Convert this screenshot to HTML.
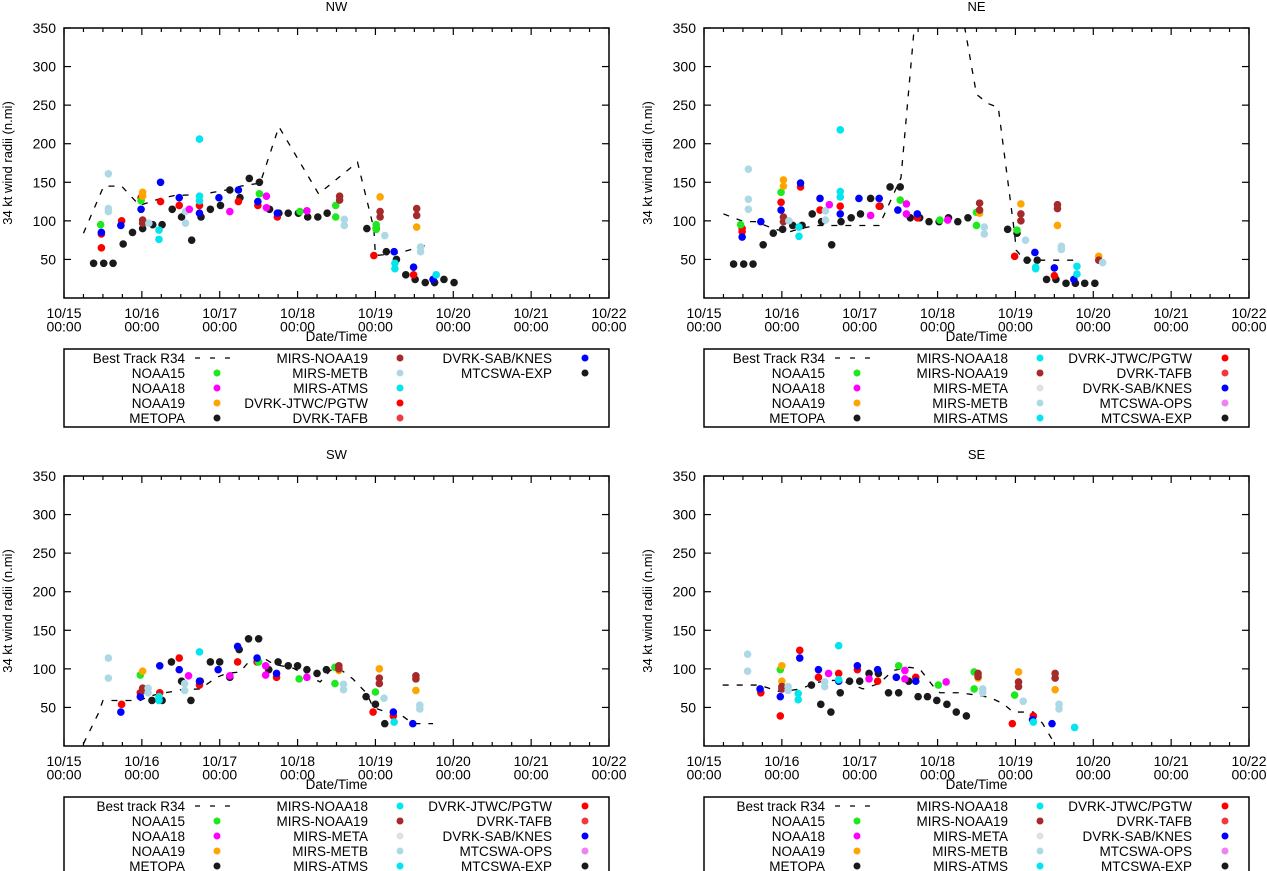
<!DOCTYPE html>
<html><head><meta charset="utf-8"><style>
html,body{margin:0;padding:0;background:#fff;}
svg{display:block;font-family:"Liberation Sans",Arial,sans-serif;}
</style></head><body>
<svg id="chart" width="1267" height="871" viewBox="0 0 1267 871" xmlns="http://www.w3.org/2000/svg"></svg>
<script>
// ---- shared axis data ----
const dayTickLabels = ["10/15","10/16","10/17","10/18","10/19","10/20","10/21","10/22"];
const yTicks = [50,100,150,200,250,300,350];

// ---- NW ----
const nwBest = [[0.25,84],[0.51,145],[0.74,145],[0.97,120],[1.24,129],[1.43,133],[1.75,134],[2.14,141],[2.27,145],[2.52,149],[2.76,222],[3.27,135],[3.77,176],[3.98,90],[4.0,55],[4.29,58],[4.67,69]];
const nwBlack = [[0.38,45],[0.51,45],[0.63,45],[0.76,70],[0.88,85],[1.01,90],[1.14,95],[1.26,95],[1.39,115],[1.51,105],[1.64,75],[1.76,105],[1.88,115],[2.01,120],[2.13,140],[2.26,130],[2.38,155],[2.51,150],[2.64,115],[2.76,110],[2.88,110],[3.01,110],[3.13,105],[3.26,105],[3.38,110],[3.89,90],[4.01,90],[4.14,60],[4.27,50],[4.39,30],[4.51,24],[4.64,20],[4.76,20],[4.88,24],[5.01,20]];
const nwRed = [[0.48,83],[0.48,65],[0.74,100],[0.99,130],[1.24,125],[1.48,120],[1.74,120],[2.24,125],[2.49,120],[2.74,105],[3.98,55],[4.49,30]];
const nwGreen = [[0.47,95],[0.99,126],[2.51,135],[3.03,112],[3.49,105],[3.49,120],[4.01,95],[4.01,89]];
const nwBlue = [[0.48,85],[0.73,94],[0.99,115],[1.24,150],[1.48,130],[1.74,110],[1.99,130],[2.24,140],[2.49,125],[2.74,110],[4.24,60],[4.49,40],[4.74,24]];
const nwOrange = [[1.01,137],[1.01,132],[4.06,131],[4.53,92]];
const nwBrown = [[1.01,101],[1.01,97],[3.54,132],[3.54,127],[4.06,112],[4.06,105],[4.53,116],[4.53,107]];
const nwLightBlue = [[0.57,161],[0.57,116],[0.57,112],[1.09,97],[1.56,112],[1.56,97],[3.6,102],[3.6,94],[4.12,81],[4.58,66],[4.58,60]];
const nwCyan = [[1.74,206],[1.74,132],[1.74,126],[1.22,88],[1.22,76],[4.25,45],[4.25,38],[4.78,30]];
const nwMagenta = [[1.61,115],[2.13,112],[2.6,132],[2.6,117],[3.12,113]];

// ---- NE ----
const neBest = [[0.25,109],[0.51,99],[0.66,99],[0.89,90],[1.07,85],[1.24,90],[1.43,94],[1.63,94],[2.25,94],[2.36,118],[2.53,156],[2.7,350],[2.75,380],[3.25,380],[3.35,350],[3.5,264],[3.65,252],[3.78,247],[3.99,83],[4.01,62],[4.12,49],[4.77,49]];
const neBlack = [[0.38,44],[0.51,44],[0.63,44],[0.76,69],[0.89,84],[1.01,89],[1.14,94],[1.26,94],[1.39,109],[1.51,99],[1.64,69],[1.76,99],[1.89,104],[2.01,109],[2.14,129],[2.26,119],[2.39,144],[2.52,144],[2.65,104],[2.77,104],[2.89,99],[3.02,99],[3.14,104],[3.26,99],[3.39,104],[3.9,89],[4.02,84],[4.15,49],[4.28,49],[4.4,24],[4.52,24],[4.65,19],[4.77,19],[4.89,19],[5.02,19]];
const neRed = [[0.49,90],[0.49,86],[0.99,124],[1.24,144],[1.49,114],[1.75,119],[2.25,119],[2.74,104],[3.99,54],[4.5,29]];
const neGreen = [[0.47,95],[0.99,137],[2.52,127],[3.03,101],[3.5,111],[3.5,94],[4.02,88]];
const neBlue = [[0.49,79],[0.73,99],[0.99,114],[1.24,149],[1.49,129],[1.75,109],[1.99,129],[2.25,129],[2.49,114],[2.74,109],[4.25,59],[4.5,39],[4.75,24]];
const neOrange = [[1.02,153],[1.02,145],[3.54,110],[4.07,122],[4.54,94],[5.07,54]];
const neBrown = [[1.02,105],[1.02,99],[3.54,123],[3.54,114],[4.07,109],[4.07,100],[4.54,121],[4.54,116],[5.07,49]];
const neLightBlue = [[0.57,167],[0.57,128],[0.57,115],[1.09,100],[1.56,113],[1.56,101],[3.6,92],[3.6,83],[4.13,75],[4.59,67],[4.59,63],[5.12,46]];
const neCyan = [[1.75,218],[1.75,138],[1.75,131],[1.22,92],[1.22,80],[4.26,40],[4.26,38],[4.79,41],[4.79,31]];
const neMagenta = [[1.61,121],[2.14,107],[2.6,122],[2.6,109],[3.13,101]];

// ---- SW ----
const swBest = [[0.25,3],[0.44,42],[0.5,59],[0.74,59],[0.98,59],[1.08,64],[1.23,68],[1.36,70],[1.51,73],[1.75,74],[1.96,89],[2.09,94],[2.26,96],[2.39,111],[2.52,117],[2.69,106],[2.94,101],[3.29,83],[3.42,98],[3.54,100],[3.71,87],[3.89,68],[3.97,50],[4.14,44],[4.27,44],[4.36,38],[4.48,29],[4.74,29]];
const swBlack = [[1.13,59],[1.26,59],[1.38,109],[1.51,84],[1.63,59],[1.75,84],[1.88,109],[2.0,109],[2.13,89],[2.25,125],[2.37,139],[2.5,139],[2.63,99],[2.75,109],[2.88,104],[3.0,104],[3.12,99],[3.25,94],[3.37,99],[3.88,64],[4.0,54],[4.12,29]];
const swRed = [[0.74,54],[0.98,69],[1.23,69],[1.48,114],[1.74,79],[2.23,109],[2.48,109],[2.73,89],[3.97,44],[4.23,39]];
const swGreen = [[0.98,92],[2.5,109],[3.02,87],[3.48,102],[3.48,81],[4.0,70]];
const swBlue = [[0.73,44],[0.98,64],[1.23,104],[1.48,99],[1.74,84],[1.98,99],[2.23,129],[2.48,114],[2.73,94],[4.23,44],[4.48,29]];
const swOrange = [[1.01,97],[3.53,98],[4.05,100],[4.52,72]];
const swBrown = [[1.01,75],[1.01,72],[3.53,104],[3.53,100],[4.05,88],[4.05,81],[4.52,91],[4.52,87]];
const swLightBlue = [[0.57,114],[0.57,88],[1.08,75],[1.08,69],[1.55,81],[1.55,72],[3.59,80],[3.59,73],[4.11,62],[4.57,53],[4.57,48]];
const swCyan = [[1.22,64],[1.22,59],[1.74,122],[4.24,31]];
const swMagenta = [[1.6,91],[2.13,91],[2.59,104],[2.59,92],[3.12,89]];

// ---- SE ----
const seBest = [[0.24,79],[0.71,79],[0.86,74],[0.99,70],[1.1,72],[1.25,74],[1.4,81],[1.57,85],[1.74,85],[1.87,81],[2.04,74],[2.25,81],[2.43,98],[2.64,102],[2.77,100],[2.94,78],[3.03,69],[3.28,69],[3.5,66],[3.67,63],[3.84,55],[3.97,44],[4.23,44],[4.35,29],[4.48,7],[4.51,0]];
const seBlack = [[1.38,79],[1.5,54],[1.63,44],[1.75,69],[1.87,84],[2.0,84],[2.12,94],[2.24,94],[2.37,69],[2.5,69],[2.63,84],[2.75,64],[2.87,64],[2.99,59],[3.12,54],[3.24,44],[3.37,39]];
const seRed = [[0.73,69],[0.98,39],[1.23,124],[1.47,89],[1.73,94],[1.97,99],[2.23,84],[2.72,89],[3.96,29],[4.23,39]];
const seGreen = [[0.98,99],[2.5,104],[3.01,79],[3.47,96],[3.47,74],[3.99,66]];
const seBlue = [[0.72,74],[0.98,64],[1.23,114],[1.47,99],[1.73,84],[1.97,104],[2.23,99],[2.47,89],[2.72,84],[4.22,34],[4.47,29]];
const seOrange = [[1.0,104],[1.0,84],[3.52,88],[4.04,96],[4.51,73]];
const seBrown = [[1.0,77],[1.0,74],[3.52,94],[3.52,90],[4.04,83],[4.04,77],[4.51,94],[4.51,88]];
const seLightBlue = [[0.56,119],[0.56,97],[1.08,77],[1.08,72],[1.55,83],[1.55,77],[3.58,74],[3.58,69],[4.1,58],[4.56,54],[4.56,48]];
const seCyan = [[1.21,68],[1.21,60],[1.73,130],[1.73,86],[4.23,31],[4.76,24]];
const seMagenta = [[1.6,94],[2.12,87],[2.58,98],[2.58,87],[3.11,83]];

const COL = {green:"#1ee81e",magenta:"#ff00ff",orange:"#ffa500",black:"#1a1a1a",brown:"#a52a2a",lightblue:"#add8e6",cyan:"#00e5ee",red:"#ff0000",red2:"#ee3b3b",blue:"#0000ff",gray:"#e0e0e0",violet:"#ee82ee"};

const legendA = [
 [["Best Track R34","dash"],["NOAA15","green"],["NOAA18","magenta"],["NOAA19","orange"],["METOPA","black"]],
 [["MIRS-NOAA19","brown"],["MIRS-METB","lightblue"],["MIRS-ATMS","cyan"],["DVRK-JTWC/PGTW","red"],["DVRK-TAFB","red2"]],
 [["DVRK-SAB/KNES","blue"],["MTCSWA-EXP","black"]]];
function legendB(best){ return [
 [[best,"dash"],["NOAA15","green"],["NOAA18","magenta"],["NOAA19","orange"],["METOPA","black"]],
 [["MIRS-NOAA18","cyan"],["MIRS-NOAA19","brown"],["MIRS-META","gray"],["MIRS-METB","lightblue"],["MIRS-ATMS","cyan"]],
 [["DVRK-JTWC/PGTW","red"],["DVRK-TAFB","red2"],["DVRK-SAB/KNES","blue"],["MTCSWA-OPS","violet"],["MTCSWA-EXP","black"]]];}

const svg = document.getElementById('chart');
const NS = "http://www.w3.org/2000/svg";
function mk(tag, attrs, parent){ const e=document.createElementNS(NS,tag); for(const k in attrs) e.setAttribute(k,attrs[k]); (parent||svg).appendChild(e); return e; }

const PL=64, PR=609, PT=28, PB=298;
function drawPanel(ox, oy, key, title, best, series, legend){
  const g = mk('g',{transform:`translate(${ox},${oy})`});
  
  
  const xs = d => PL + d*(PR-PL)/7;
  const ys = v => PB - v*(PB-PT)/350;
  const t = mk('text',{x:(PL+PR)/2,y:11,'text-anchor':'middle','font-size':13},g); t.textContent=title;
  
  
  const yl = mk('text',{x:0,y:0,'text-anchor':'middle','font-size':13,transform:`translate(12,${(PT+PB)/2}) rotate(-90)`},g);
  yl.textContent="34 kt wind radii (n.mi)";
  
  
  for(const v of yTicks){
    const y=ys(v);
    mk('line',{x1:PL,x2:PL+7,y1:y,y2:y,stroke:'#000','stroke-width':1.2},g);
    mk('line',{x1:PR,x2:PR-7,y1:y,y2:y,stroke:'#000','stroke-width':1.2},g);
    const lb=mk('text',{x:PL-8,y:y+5,'text-anchor':'end','font-size':14},g); lb.textContent=v;
    
    
  }
  for(let i=0;i<=28;i++){
    const x=xs(i/4), L=(i%4===0)?7:4;
    mk('line',{x1:x,x2:x,y1:PB,y2:PB-L,stroke:'#000','stroke-width':1.2},g);
    mk('line',{x1:x,x2:x,y1:PT,y2:PT+L,stroke:'#000','stroke-width':1.2},g);
  }
  dayTickLabels.forEach((s,i)=>{
    const tx=mk('text',{x:xs(i),y:PB+20,'text-anchor':'middle','font-size':14},g);
    
    
    const a=mk('tspan',{x:xs(i)},tx); a.textContent=s;
    const b=mk('tspan',{x:xs(i),dy:13.5},tx); b.textContent="00:00";
  });
  const xl=mk('text',{x:(PL+PR)/2,y:PB+43,'text-anchor':'middle','font-size':13.5},g); xl.textContent="Date/Time";
  
  
  const cid='clip-'+key;
  const cp=mk('clipPath',{id:cid},g); mk('rect',{x:PL,y:PT,width:PR-PL,height:PB-PT},cp);
  const pg=mk('g',{'clip-path':`url(#${cid})`},g);
  const bl=mk('polyline',{points:best.map(p=>xs(p[0])+','+ys(p[1])).join(' '),fill:'none',stroke:'#000','stroke-width':1.3,'stroke-dasharray':'6,8'},pg);
  
  
  for(const [name,col,pts] of series){
    for(const p of pts){
      const c=mk('circle',{cx:xs(p[0]),cy:ys(p[1]),r:3.8,fill:COL[col]},pg);
      
      
    }
  }
  mk('rect',{x:PL,y:PT,width:PR-PL,height:PB-PT,fill:'none',stroke:'#000','stroke-width':1.5},g);
  const lg=mk('g',{},g);
  
  
  mk('rect',{x:PL,y:349,width:PR-PL,height:78,fill:'none',stroke:'#000','stroke-width':1.5},lg);
  const textEnd=[121,304,488], mark=[153,336,521];
  legend.forEach((col,ci)=>col.forEach((ent,ri)=>{
    const y=358+ri*15;
    const tx=mk('text',{x:PL+textEnd[ci],y:y+5,'text-anchor':'end','font-size':13.5},lg); tx.textContent=ent[0];
    
    
    if(ent[1]==='dash'){
      mk('line',{x1:PL+textEnd[ci]+10,x2:PL+textEnd[ci]+48,y1:y,y2:y,stroke:'#000','stroke-width':1.3,'stroke-dasharray':'5,10'},lg);
    } else {
      mk('circle',{cx:PL+mark[ci],cy:y,r:3.5,fill:COL[ent[1]]},lg);
    }
  }));
}

drawPanel(0,0,'nw','NW',nwBest,[['metopa','black',nwBlack],['jtwc','red',nwRed],['noaa15','green',nwGreen],['sab','blue',nwBlue],['noaa19','orange',nwOrange],['mirs-noaa19','brown',nwBrown],['mirs-metb','lightblue',nwLightBlue],['mirs-atms','cyan',nwCyan],['noaa18','magenta',nwMagenta]],legendA);
drawPanel(640,0,'ne','NE',neBest,[['metopa','black',neBlack],['jtwc','red',neRed],['noaa15','green',neGreen],['sab','blue',neBlue],['noaa19','orange',neOrange],['mirs-noaa19','brown',neBrown],['mirs-metb','lightblue',neLightBlue],['mirs-atms','cyan',neCyan],['noaa18','magenta',neMagenta]],legendB('Best Track R34'));
drawPanel(0,448,'sw','SW',swBest,[['metopa','black',swBlack],['jtwc','red',swRed],['noaa15','green',swGreen],['sab','blue',swBlue],['noaa19','orange',swOrange],['mirs-noaa19','brown',swBrown],['mirs-metb','lightblue',swLightBlue],['mirs-atms','cyan',swCyan],['noaa18','magenta',swMagenta]],legendB('Best track R34'));
drawPanel(640,448,'se','SE',seBest,[['metopa','black',seBlack],['jtwc','red',seRed],['noaa15','green',seGreen],['sab','blue',seBlue],['noaa19','orange',seOrange],['mirs-noaa19','brown',seBrown],['mirs-metb','lightblue',seLightBlue],['mirs-atms','cyan',seCyan],['noaa18','magenta',seMagenta]],legendB('Best track R34'));
</script>
</body></html>
